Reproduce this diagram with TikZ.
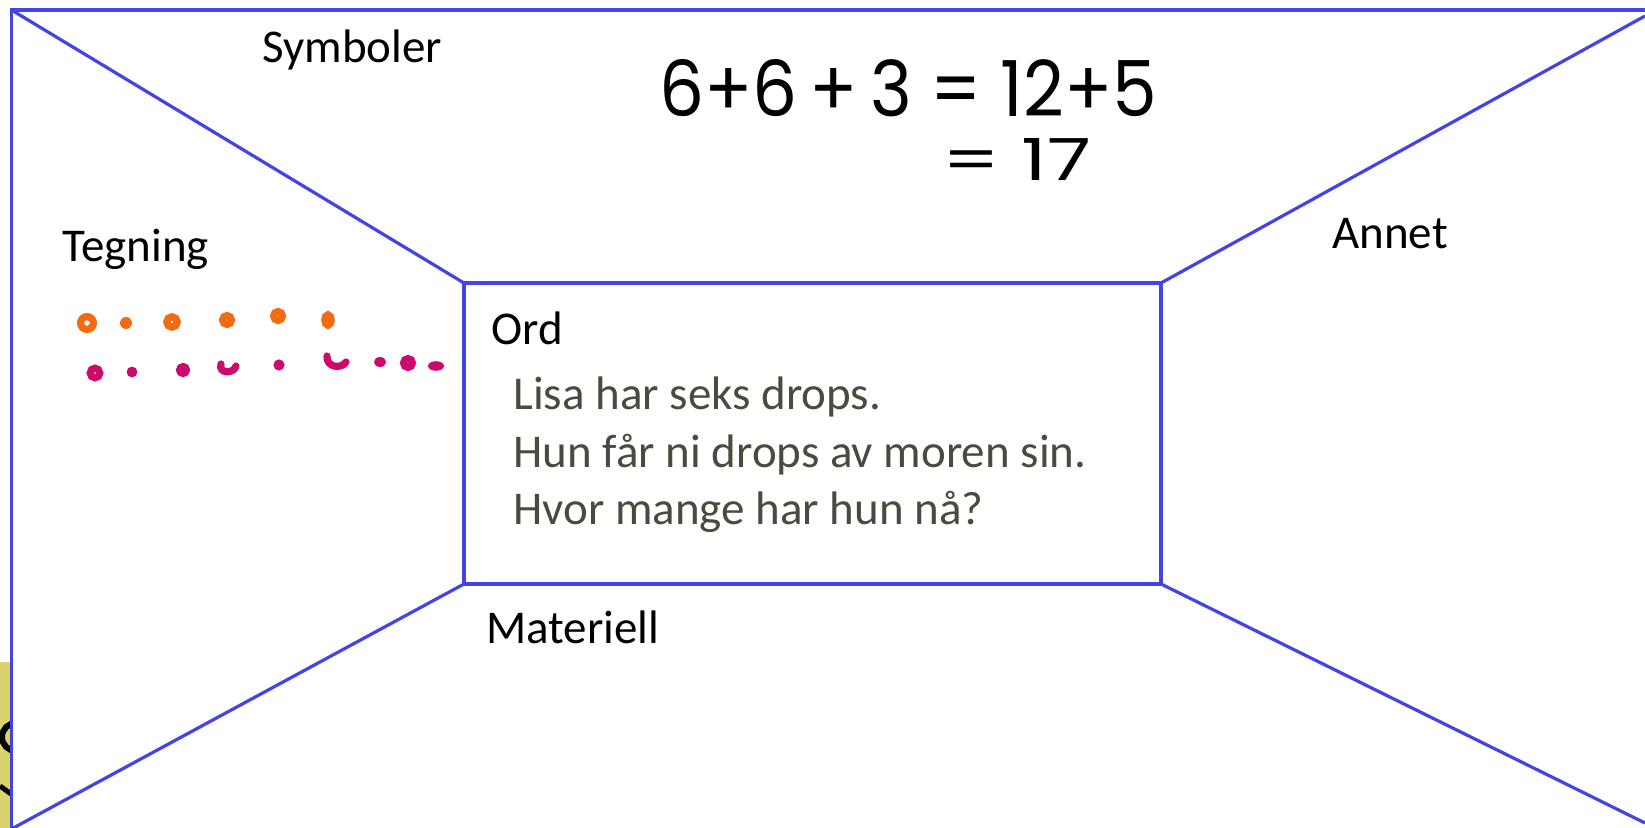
\documentclass[tikz,border=0pt]{standalone}
\usepackage{fontspec}
\usepackage{graphicx}
\setmainfont{Carlito}
\newfontfamily\handfont{Poppins}
\definecolor{frameBlue}{HTML}{4343E6}
\definecolor{dotOrange}{HTML}{F26A12}
\definecolor{dotPink}{HTML}{CC0A6E}
\definecolor{storyGrey}{HTML}{4A4A3E}
\definecolor{stripYellow}{HTML}{DAD36C}

\begin{document}
\begin{tikzpicture}[x=0.5pt,y=-0.5pt,
  framepen/.style={frameBlue,line width=1.6pt},
  lab/.style={anchor=base west,inner sep=0pt,font=\fontsize{23.5pt}{28pt}\selectfont},
  story/.style={lab,storyGrey},
  ring/.style={line width=3.6pt}]
  \useasboundingbox (0,0) rectangle (1645,828);
  % gul kant nede til venstre
  \fill[stripYellow] (0,662) rectangle (11,828);
  \begin{scope}
    \clip (0,662) rectangle (11,828);
    \draw[line width=3pt] (16,737) circle[radius=7pt];
    \draw[line width=2.5pt] (0,786) -- (14,796);
  \end{scope}
  % ramme
  \coordinate (tl) at (11.5,10);
  \coordinate (tr) at (1645,10);
  \coordinate (bl) at (11.5,829);
  \coordinate (rt) at (1645,16);
  \coordinate (rb) at (1645,823);
  \coordinate (a) at (464,283);
  \coordinate (b) at (1161,283);
  \coordinate (c) at (1161,584);
  \coordinate (d) at (464,584);
  \draw[framepen] (bl) -- (tl) -- (tr);
  \draw[framepen] (a) -- (b) -- (c) -- (d) -- cycle;
  \draw[framepen] (tl) -- (a);
  \draw[framepen] (b) -- (rt);
  \draw[framepen] (c) -- (rb);
  \draw[framepen] (d) -- (bl);
  % overskrifter
  \node[lab] (symboler) at (262,63) {Symboler};
  \node[lab] (tegning) at (62,262) {Tegning};
  \node[lab] (annet) at (1332,249) {Annet};
  \node[lab] (ord) at (491,345) {Ord};
  \node[lab] (materiell) at (486,643) {Materiell};
  % fortelling
  \node[story] (line1) at (513,410) {Lisa har seks drops.};
  \node[story] (line2) at (513,468) {Hun får ni drops av moren sin.};
  \node[story] (line3) at (513,525) {Hvor mange har hun nå?};
  % regning
  \node[anchor=base west,inner sep=0pt] (sum) at (659,117)
    {\resizebox{249pt}{28.5pt}{\handfont 6+6\,+\,3 = 12+5}};
  \node[anchor=base west,inner sep=0pt] (total) at (942,181)
    {\resizebox{74.5pt}{21pt}{\handfont = 17}};
  % prikker
  \foreach \x/\y/\r in {87/323/3.2,172/322/2.6,227/320/2.2,278/316/2.2}
    \draw[dotOrange,ring] (\x,\y) circle[radius=\r pt];
  \draw[dotOrange,ring] (328,320) ellipse[x radius=1.6pt,y radius=2.6pt];
  \fill[dotOrange] (126,323) circle[radius=3pt];
  \foreach \x/\y/\r in {95/373/2.4,183/370/1.7,408/363/2.2}
    \draw[dotPink,ring] (\x,\y) circle[radius=\r pt];
  \foreach \x/\y/\r in {132/372/2.7,279/365/2.8}
    \fill[dotPink] (\x,\y) circle[radius=\r pt];
  \fill[dotPink] (380,362) ellipse[x radius=3pt,y radius=2.5pt];
  \fill[dotPink] (436,366) ellipse[x radius=4pt,y radius=2.4pt];
  \draw[dotPink,ring,line cap=round] (221,364) .. controls (218,374) and (234,374) .. (236,366);
  \draw[dotPink,ring,line cap=round] (327,356) .. controls (326,368) and (342,369) .. (346,362);
\end{tikzpicture}
\end{document}
